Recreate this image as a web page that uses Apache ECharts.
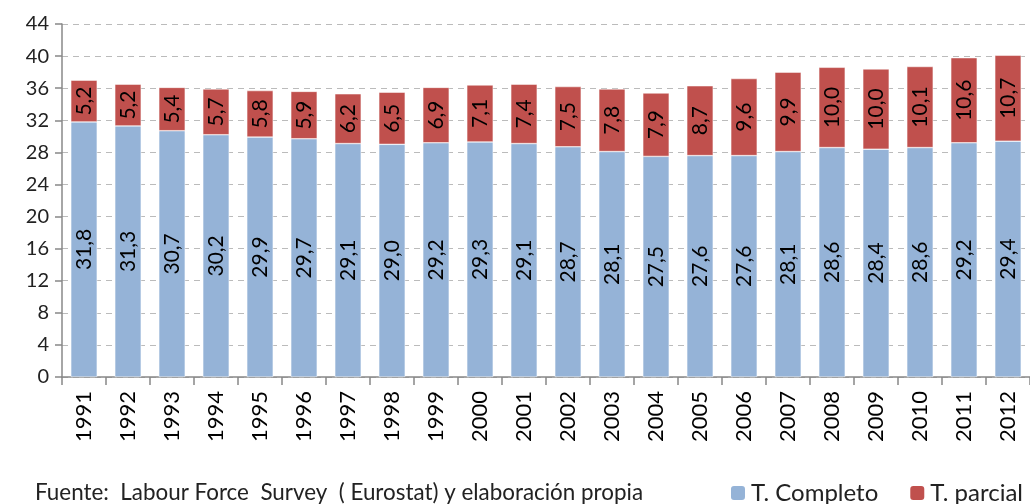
<!DOCTYPE html>
<html>
<head>
<meta charset="utf-8">
<script src="https://cdn.jsdelivr.net/npm/echarts@6/dist/echarts.min.js"></script>
<style>
  html, body { margin: 0; padding: 0; background: #fff; }
  #chart { width: 1030px; height: 504px; }
</style>
</head>
<body>
<div id="chart"></div>
<script>
// datos
var years = ['1991', '1992', '1993', '1994', '1995', '1996', '1997', '1998', '1999', '2000', '2001',
  '2002', '2003', '2004', '2005', '2006', '2007', '2008', '2009', '2010', '2011', '2012'];
var completo = [31.8, 31.3, 30.7, 30.2, 29.9, 29.7, 29.1, 29.0, 29.2, 29.3, 29.1,
  28.7, 28.1, 27.5, 27.6, 27.6, 28.1, 28.6, 28.4, 28.6, 29.2, 29.4];
var parcial = [5.2, 5.2, 5.4, 5.7, 5.8, 5.9, 6.2, 6.5, 6.9, 7.1, 7.4,
  7.5, 7.8, 7.9, 8.7, 9.6, 9.9, 10.0, 10.0, 10.1, 10.6, 10.7];

var FONT = 'Lato, "Open Sans", sans-serif';

var chart = echarts.init(document.getElementById('chart'));

// etiqueta con coma decimal
function coma(p) {
  return p.value.toFixed(1).replace('.', ',');
}

var barLabel = {
  show: true,
  position: 'inside',
  rotate: 90,
  color: '#000',
  fontFamily: FONT,
  fontSize: 21,
  formatter: coma
};

var option = {
  animation: false,
  textStyle: { fontFamily: FONT },
  grid: {
    left: 62,
    top: 24,
    bottom: 127,
    right: -15
  },
  legend: {
    right: 2,
    top: 476,
    itemWidth: 16,
    itemHeight: 16,
    itemGap: 30,
    textStyle: { fontFamily: FONT, fontSize: 24, color: '#222' },
    data: ['T. Completo', 'T. parcial']
  },
  xAxis: {
    type: 'category',
    data: years,
    axisLine: { lineStyle: { color: '#888', width: 1.5 } },
    axisTick: { show: true, length: 8, lineStyle: { color: '#888', width: 1.5 } },
    axisLabel: {
      rotate: 90,
      margin: 14,
      color: '#000',
      fontFamily: FONT,
      fontSize: 22
    }
  },
  yAxis: {
    type: 'value',
    min: 0,
    max: 44,
    interval: 4,
    axisLine: { show: true, lineStyle: { color: '#888', width: 1.5 } },
    axisTick: { show: true, length: 7, lineStyle: { color: '#888', width: 1.5 } },
    axisLabel: {
      margin: 13,
      color: '#222',
      fontFamily: FONT,
      fontSize: 20
    },
    splitLine: {
      show: true,
      lineStyle: { color: '#bbb', type: [6, 5], width: 1 }
    }
  },
  graphic: [{
    type: 'text',
    left: 35,
    top: 482,
    style: {
      text: 'Fuente:  Labour Force  Survey  ( Eurostat) y elaboración propia',
      fontFamily: FONT,
      fontSize: 22.4,
      fill: '#222'
    }
  }],
  series: [{
    name: 'T. Completo',
    type: 'bar',
    stack: 'total',
    barWidth: '60%',
    data: completo,
    itemStyle: { color: '#95B3D7', borderColor: '#fff', borderWidth: 0.5 },
    label: barLabel
  }, {
    name: 'T. parcial',
    type: 'bar',
    stack: 'total',
    barWidth: '60%',
    data: parcial,
    itemStyle: { color: '#C0504D', borderColor: '#fff', borderWidth: 0.5 },
    label: barLabel
  }]
};

chart.setOption(option);
</script>
</body>
</html>
